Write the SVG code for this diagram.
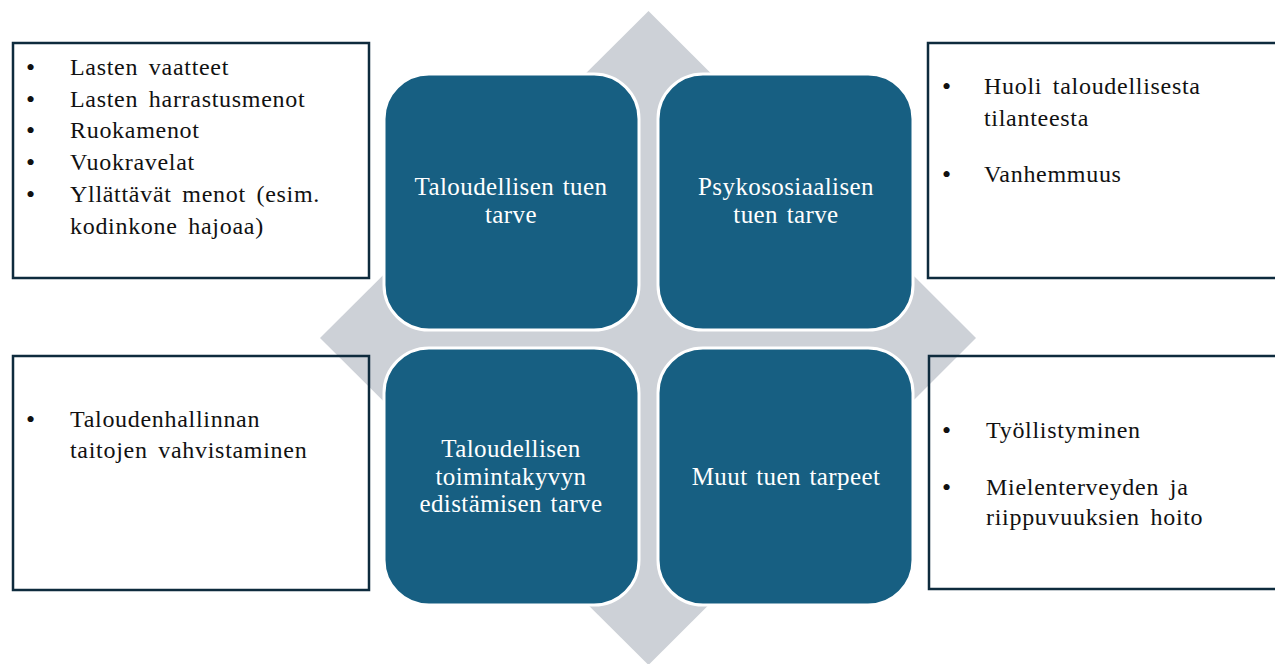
<svg xmlns="http://www.w3.org/2000/svg" width="1275" height="664" viewBox="0 0 1275 664">
<style>
.bg{fill:#ffffff}
.diamond{fill:#CDD1D7}
.tile{fill:#175F82;stroke:#ffffff;stroke-width:3}
.tt{font-family:"Liberation Serif","Times New Roman",serif;font-size:25px;letter-spacing:0.4px;word-spacing:2px;fill:#ffffff;text-anchor:middle}
.box{fill:none;stroke:#0E2B3D;stroke-width:2.5}
.lt{font-family:"Liberation Serif","Times New Roman",serif;font-size:24px;letter-spacing:0.7px;word-spacing:4px;fill:#111111}
.bul{font-family:"Liberation Serif","Times New Roman",serif;font-size:26px;fill:#111111}
</style>
<rect class="bg" x="0" y="0" width="1275" height="664"/>
<g id="diamond">
<polygon class="diamond" points="648.5,11 976,338 648.5,665 320,338"/>
</g>
<g id="connectors"></g>
<g id="tile-taloudellinen">
<rect class="tile" x="384" y="74" width="255" height="256" rx="45" ry="45"/>
<text class="tt" x="511" y="195">Taloudellisen tuen</text>
<text class="tt" x="511" y="223">tarve</text>
</g>
<g id="tile-psykososiaalinen">
<rect class="tile" x="658" y="74" width="255" height="256" rx="45" ry="45"/>
<text class="tt" x="786" y="195">Psykososiaalisen</text>
<text class="tt" x="786" y="223">tuen tarve</text>
</g>
<g id="tile-toimintakyky">
<rect class="tile" x="384" y="348" width="255" height="257" rx="45" ry="45"/>
<text class="tt" x="511" y="457">Taloudellisen</text>
<text class="tt" x="511" y="485">toimintakyvyn</text>
<text class="tt" x="511" y="512">edistämisen tarve</text>
</g>
<g id="tile-muut">
<rect class="tile" x="658" y="348" width="255" height="257" rx="45" ry="45"/>
<text class="tt" x="786" y="485">Muut tuen tarpeet</text>
</g>
<g id="box-top-left">
<rect class="box" x="13" y="43" width="356" height="235"/>
<text class="bul" x="26" y="76">•</text><text class="lt" x="70" y="75">Lasten vaatteet</text>
<text class="bul" x="26" y="108">•</text><text class="lt" x="70" y="107">Lasten harrastusmenot</text>
<text class="bul" x="26" y="139">•</text><text class="lt" x="70" y="138">Ruokamenot</text>
<text class="bul" x="26" y="171">•</text><text class="lt" x="70" y="170">Vuokravelat</text>
<text class="bul" x="26" y="203">•</text><text class="lt" x="70" y="202">Yllättävät menot (esim.</text>
<text class="lt" x="70" y="234">kodinkone hajoaa)</text>
</g>
<g id="box-top-right">
<rect class="box" x="928" y="43" width="360" height="235"/>
<text class="bul" x="942" y="95">•</text><text class="lt" x="984" y="94">Huoli taloudellisesta</text>
<text class="lt" x="984" y="126">tilanteesta</text>
<text class="bul" x="942" y="183">•</text><text class="lt" x="984" y="182">Vanhemmuus</text>
</g>
<g id="box-bottom-left">
<rect class="box" x="13" y="356" width="356" height="234"/>
<text class="bul" x="26" y="428">•</text><text class="lt" x="70" y="427">Taloudenhallinnan</text>
<text class="lt" x="70" y="458">taitojen vahvistaminen</text>
</g>
<g id="box-bottom-right">
<rect class="box" x="929" y="356" width="360" height="233"/>
<text class="bul" x="942" y="439">•</text><text class="lt" x="986" y="438">Työllistyminen</text>
<text class="bul" x="942" y="496">•</text><text class="lt" x="986" y="495">Mielenterveyden ja</text>
<text class="lt" x="986" y="525">riippuvuuksien hoito</text>
</g>
</svg>
